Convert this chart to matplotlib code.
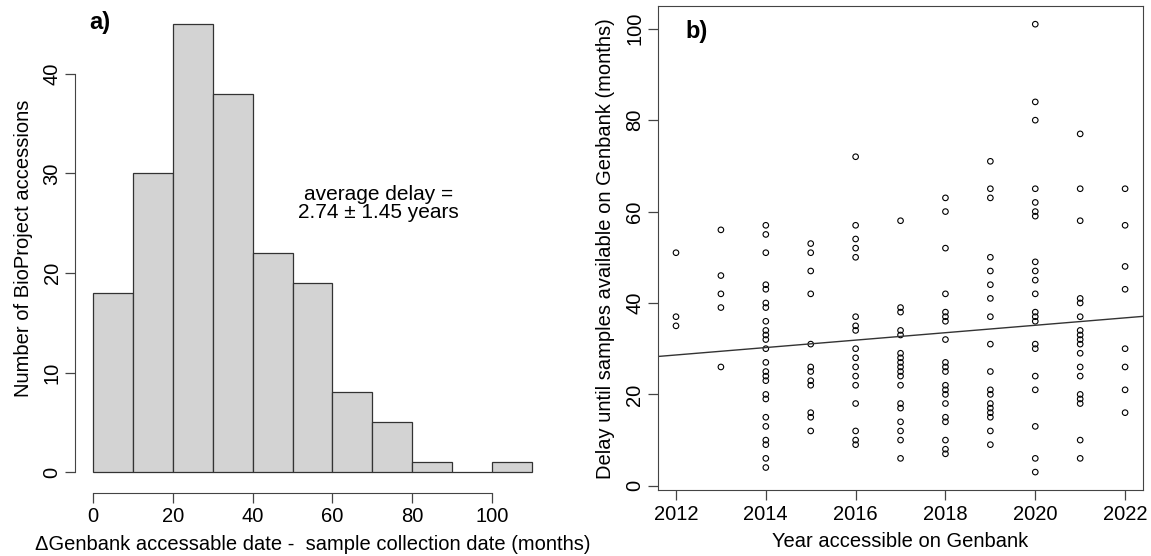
import matplotlib
matplotlib.use("Agg")
import matplotlib.pyplot as plt
import numpy as np

plt.rcParams['font.family'] = ['Liberation Sans', 'DejaVu Sans']

# panel a) histogram of delays (months)
bin_edges = [0, 10, 20, 30, 40, 50, 60, 70, 80, 90, 100, 110]
counts = [18, 30, 45, 38, 22, 19, 8, 5, 1, 0, 1]

# panel b) delay (months) per year accessible on Genbank
delays = {
    2012: [51, 37, 35],
    2013: [56, 46, 42, 39, 26],
    2014: [57, 55, 51, 44, 43, 40, 39, 36, 34, 33, 32, 30, 27, 25, 24, 23,
           20, 19, 15, 13, 10, 9, 6, 4],
    2015: [53, 51, 47, 42, 31, 26, 25, 23, 22, 16, 15, 12],
    2016: [72, 57, 54, 52, 50, 37, 35, 34, 30, 28, 26, 24, 22, 18, 12, 10, 9],
    2017: [58, 39, 38, 34, 33, 29, 28, 27, 26, 25, 24, 22, 18, 17, 14, 12, 10, 6],
    2018: [63, 60, 52, 42, 38, 37, 36, 32, 27, 26, 25, 22, 21, 20, 18, 15, 14,
           10, 8, 7],
    2019: [71, 65, 63, 50, 47, 44, 41, 37, 31, 25, 21, 20, 18, 17, 16, 15, 12, 9],
    2020: [101, 84, 80, 65, 62, 60, 59, 49, 47, 45, 42, 38, 37, 36, 31, 30, 24,
           21, 13, 6, 3],
    2021: [77, 65, 58, 41, 40, 37, 34, 33, 32, 31, 29, 26, 24, 20, 19, 18, 10, 6],
    2022: [65, 57, 48, 43, 30, 26, 21, 16],
}
years = [y for y, v in delays.items() for _ in v]
months = [m for v in delays.values() for m in v]

fig = plt.figure(figsize=(11.51, 5.56), dpi=100)
fs = 14.5

# ---- a) histogram
ax1 = fig.add_axes([0.0655, 0.1187, 0.412, 0.870])
ax1.bar(bin_edges[:-1], counts, width=np.diff(bin_edges), align='edge',
        color='#d3d3d3', edgecolor='#333333', linewidth=0.9)
ax1.set_xlim(-4.4, 114.4)
ax1.set_ylim(-1.8, 46.8)
for s in ['top', 'right']:
    ax1.spines[s].set_visible(False)
ax1.spines['left'].set_bounds(0, 40)
ax1.spines['bottom'].set_bounds(0, 100)
ax1.spines['bottom'].set_position(('outward', 2))
ax1.set_xticks([0, 20, 40, 60, 80, 100])
ax1.set_yticks([0, 10, 20, 30, 40])
ax1.set_yticklabels(['0', '10', '20', '30', '40'], rotation=90, va='center')
ax1.tick_params(labelsize=fs, length=7, width=0.9, color='#444444')
ax1.tick_params(axis='y', pad=3)
for s in ax1.spines.values():
    s.set_color('#444444')
ax1.set_xlabel('ΔGenbank accessable date -  sample collection date (months)',
               fontsize=fs, labelpad=6)
ax1.set_ylabel('Number of BioProject accessions', fontsize=fs, labelpad=7)
ax1.text(71.5, 27, 'average delay =\n2.74 ± 1.45 years', ha='center', va='center',
         fontsize=15, linespacing=0.95)
ax1.text(-1, 45.2, 'a)', fontsize=17, fontweight='bold', ha='left', va='center')

# ---- b) scatter with linear fit
ax2 = fig.add_axes([0.5717, 0.1187, 0.4214, 0.870])
ax2.scatter(years, months, s=16, facecolors='none', edgecolors='black',
            linewidths=0.8)
slope, icpt = np.polyfit(years, months, 1)
xl = np.array([2011.6, 2022.4])
ax2.plot(xl, icpt + slope * xl, color='#333333', linewidth=1.0)
ax2.set_xlim(2011.6, 2022.4)
ax2.set_ylim(-0.92, 104.92)
ax2.set_xticks([2012, 2014, 2016, 2018, 2020, 2022])
ax2.set_yticks([0, 20, 40, 60, 80, 100])
ax2.set_yticklabels(['0', '20', '40', '60', '80', '100'], rotation=90, va='center')
ax2.tick_params(labelsize=fs, length=7, width=0.9, color='#444444')
ax2.tick_params(axis='y', pad=3)
for s in ax2.spines.values():
    s.set_color('#444444')
ax2.set_xlabel('Year accessible on Genbank', fontsize=fs, labelpad=6)
ax2.set_ylabel('Delay until samples available on Genbank (months)', fontsize=fs,
               labelpad=7)
ax2.text(2012.2, 99.3, 'b)', fontsize=17, fontweight='bold', ha='left', va='center')

fig.savefig('out.png', dpi=100)
